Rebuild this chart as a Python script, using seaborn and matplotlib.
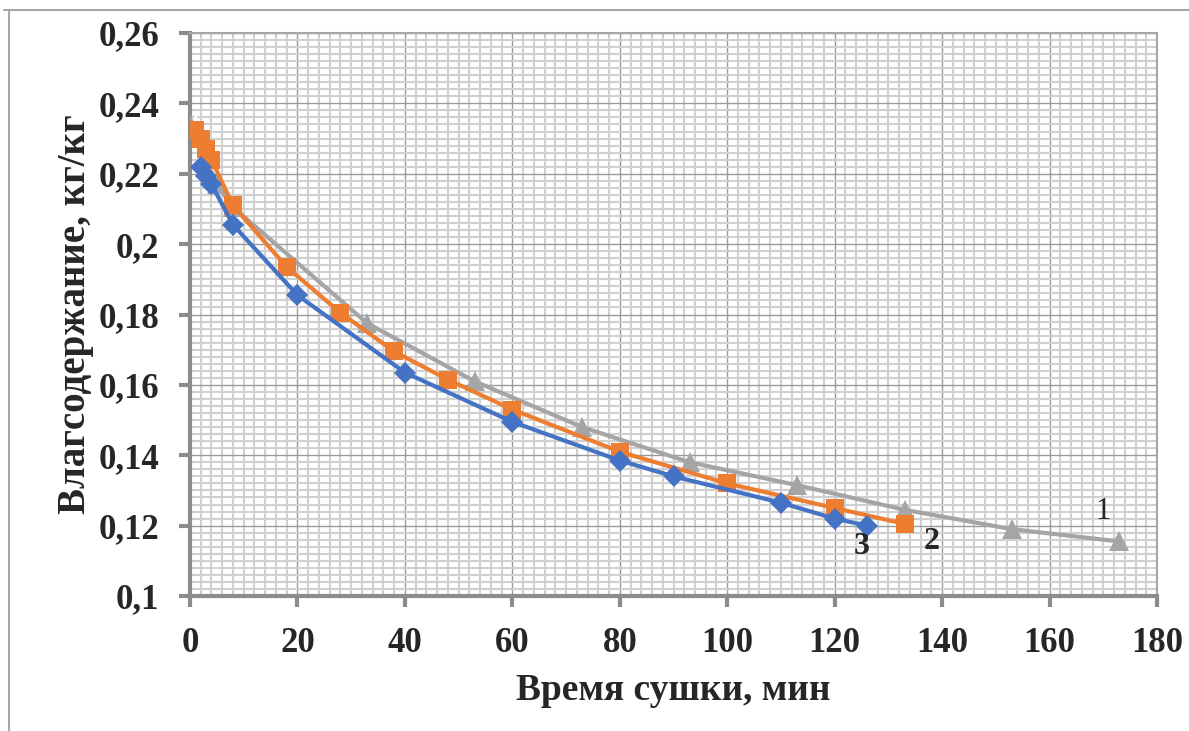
import numpy as np
import pandas as pd
import matplotlib
matplotlib.use("Agg")
import matplotlib.pyplot as plt
from matplotlib.ticker import MultipleLocator, FuncFormatter
from matplotlib.lines import Line2D
import seaborn as sns

# curve 1 (gray triangles)
t1 = [0, 5, 8, 33, 53, 73, 93, 113, 133, 153, 173]
u1 = [0.234, 0.217, 0.2105, 0.1775, 0.161, 0.148, 0.138, 0.1315, 0.1245, 0.119, 0.1155]

# curve 2 (orange squares)
t2 = [1, 2, 3, 4, 8, 18, 28, 38, 48, 60, 80, 100, 120, 133]
u2 = [0.2325, 0.230, 0.227, 0.224, 0.211, 0.1935, 0.1805, 0.1695, 0.1615, 0.153, 0.141, 0.132, 0.125, 0.1205]

# curve 3 (blue diamonds)
t3 = [2, 3, 4, 8, 20, 40, 60, 80, 90, 110, 120, 126]
u3 = [0.222, 0.2195, 0.217, 0.2055, 0.1855, 0.1635, 0.1495, 0.1385, 0.134, 0.1265, 0.122, 0.120]

# single starting point (yellow cross)
t0 = [0]
u0 = [0.2345]

curve_labels = ["1", "2", "3"]

BLUE = "#4472C4"
ORANGE = "#ED7D31"
GRAY = "#A5A5A5"
YELLOW = "#FFC000"


def fmt_comma(v, pos):
    return ("%g" % round(v, 4)).replace(".", ",")


def main():
    sns.set_style("white")
    plt.rcParams["font.family"] = ["Liberation Serif", "DejaVu Serif"]

    fig = plt.figure(figsize=(11.89, 7.31), dpi=100)
    ax = fig.add_axes([190 / 1189, 1 - 596 / 731, 967 / 1189, 563 / 731])

    sns.lineplot(x=t0, y=u0, ax=ax, color=YELLOW, marker="x", markersize=10,
                 markeredgewidth=1.5, linestyle="none", sort=False, zorder=3)
    sns.lineplot(x=t1, y=u1, ax=ax, color=GRAY, marker="^", markersize=14,
                 markeredgewidth=0, linewidth=3, sort=False, zorder=4)
    sns.lineplot(x=t2, y=u2, ax=ax, color=ORANGE, marker="s", markersize=13,
                 markeredgewidth=0, linewidth=3, sort=False, zorder=5)
    sns.lineplot(x=t3, y=u3, ax=ax, color=BLUE, marker="D", markersize=11,
                 markeredgewidth=0, linewidth=3, sort=False, zorder=6)

    ax.set_xlim(0, 180)
    ax.set_ylim(0.1, 0.26)
    ax.xaxis.set_major_locator(MultipleLocator(20))
    ax.xaxis.set_minor_locator(MultipleLocator(2))
    ax.yaxis.set_major_locator(MultipleLocator(0.02))
    ax.yaxis.set_minor_locator(MultipleLocator(0.002))
    ax.yaxis.set_major_formatter(FuncFormatter(fmt_comma))

    ax.grid(which="minor", color="#D0D0D0", linewidth=1.5, zorder=0)
    ax.grid(which="major", color="#9A9A9A", linewidth=1.0, zorder=1)
    ax.set_axisbelow(True)

    for side in ["left", "bottom"]:
        ax.spines[side].set_color("#8C8C8C")
        ax.spines[side].set_linewidth(3)
    for side in ["top", "right"]:
        ax.spines[side].set_color("#A6A6A6")
        ax.spines[side].set_linewidth(1.5)

    ax.tick_params(which="major", direction="out", length=8, width=3,
                   color="#8C8C8C", labelsize=25, pad=14,
                   left=True, bottom=True)
    ax.tick_params(which="minor", length=0)
    for lbl in ax.get_xticklabels() + ax.get_yticklabels():
        lbl.set_fontweight("bold")

    ax.set_xlabel("Время сушки, мин", fontsize=27, fontweight="bold", labelpad=10)
    ax.set_ylabel("Влагсодержание, кг/кг", fontsize=28, fontweight="bold", labelpad=3)

    # curve numbers
    ax.text(170, 0.124, curve_labels[0], fontsize=22,
            ha="center", va="center", zorder=7)
    ax.text(t2[-1] + 5, u2[-1] - 0.0050, curve_labels[1], fontsize=23,
            fontweight="bold", ha="center", va="center", zorder=7)
    ax.text(t3[-1] - 1, u3[-1] - 0.0060, curve_labels[2], fontsize=23,
            fontweight="bold", ha="center", va="center", zorder=7)

    # outer frame of the embedded chart
    fig.add_artist(Line2D([9 / 1189, 9 / 1189], [0, 1 - 10 / 731],
                          transform=fig.transFigure, color="#A6A6A6", linewidth=1.5))
    fig.add_artist(Line2D([4 / 1189, 1], [1 - 10 / 731, 1 - 10 / 731],
                          transform=fig.transFigure, color="#A6A6A6", linewidth=1.5))

    fig.savefig("out.png", dpi=100)


if __name__ == "__main__":
    main()
